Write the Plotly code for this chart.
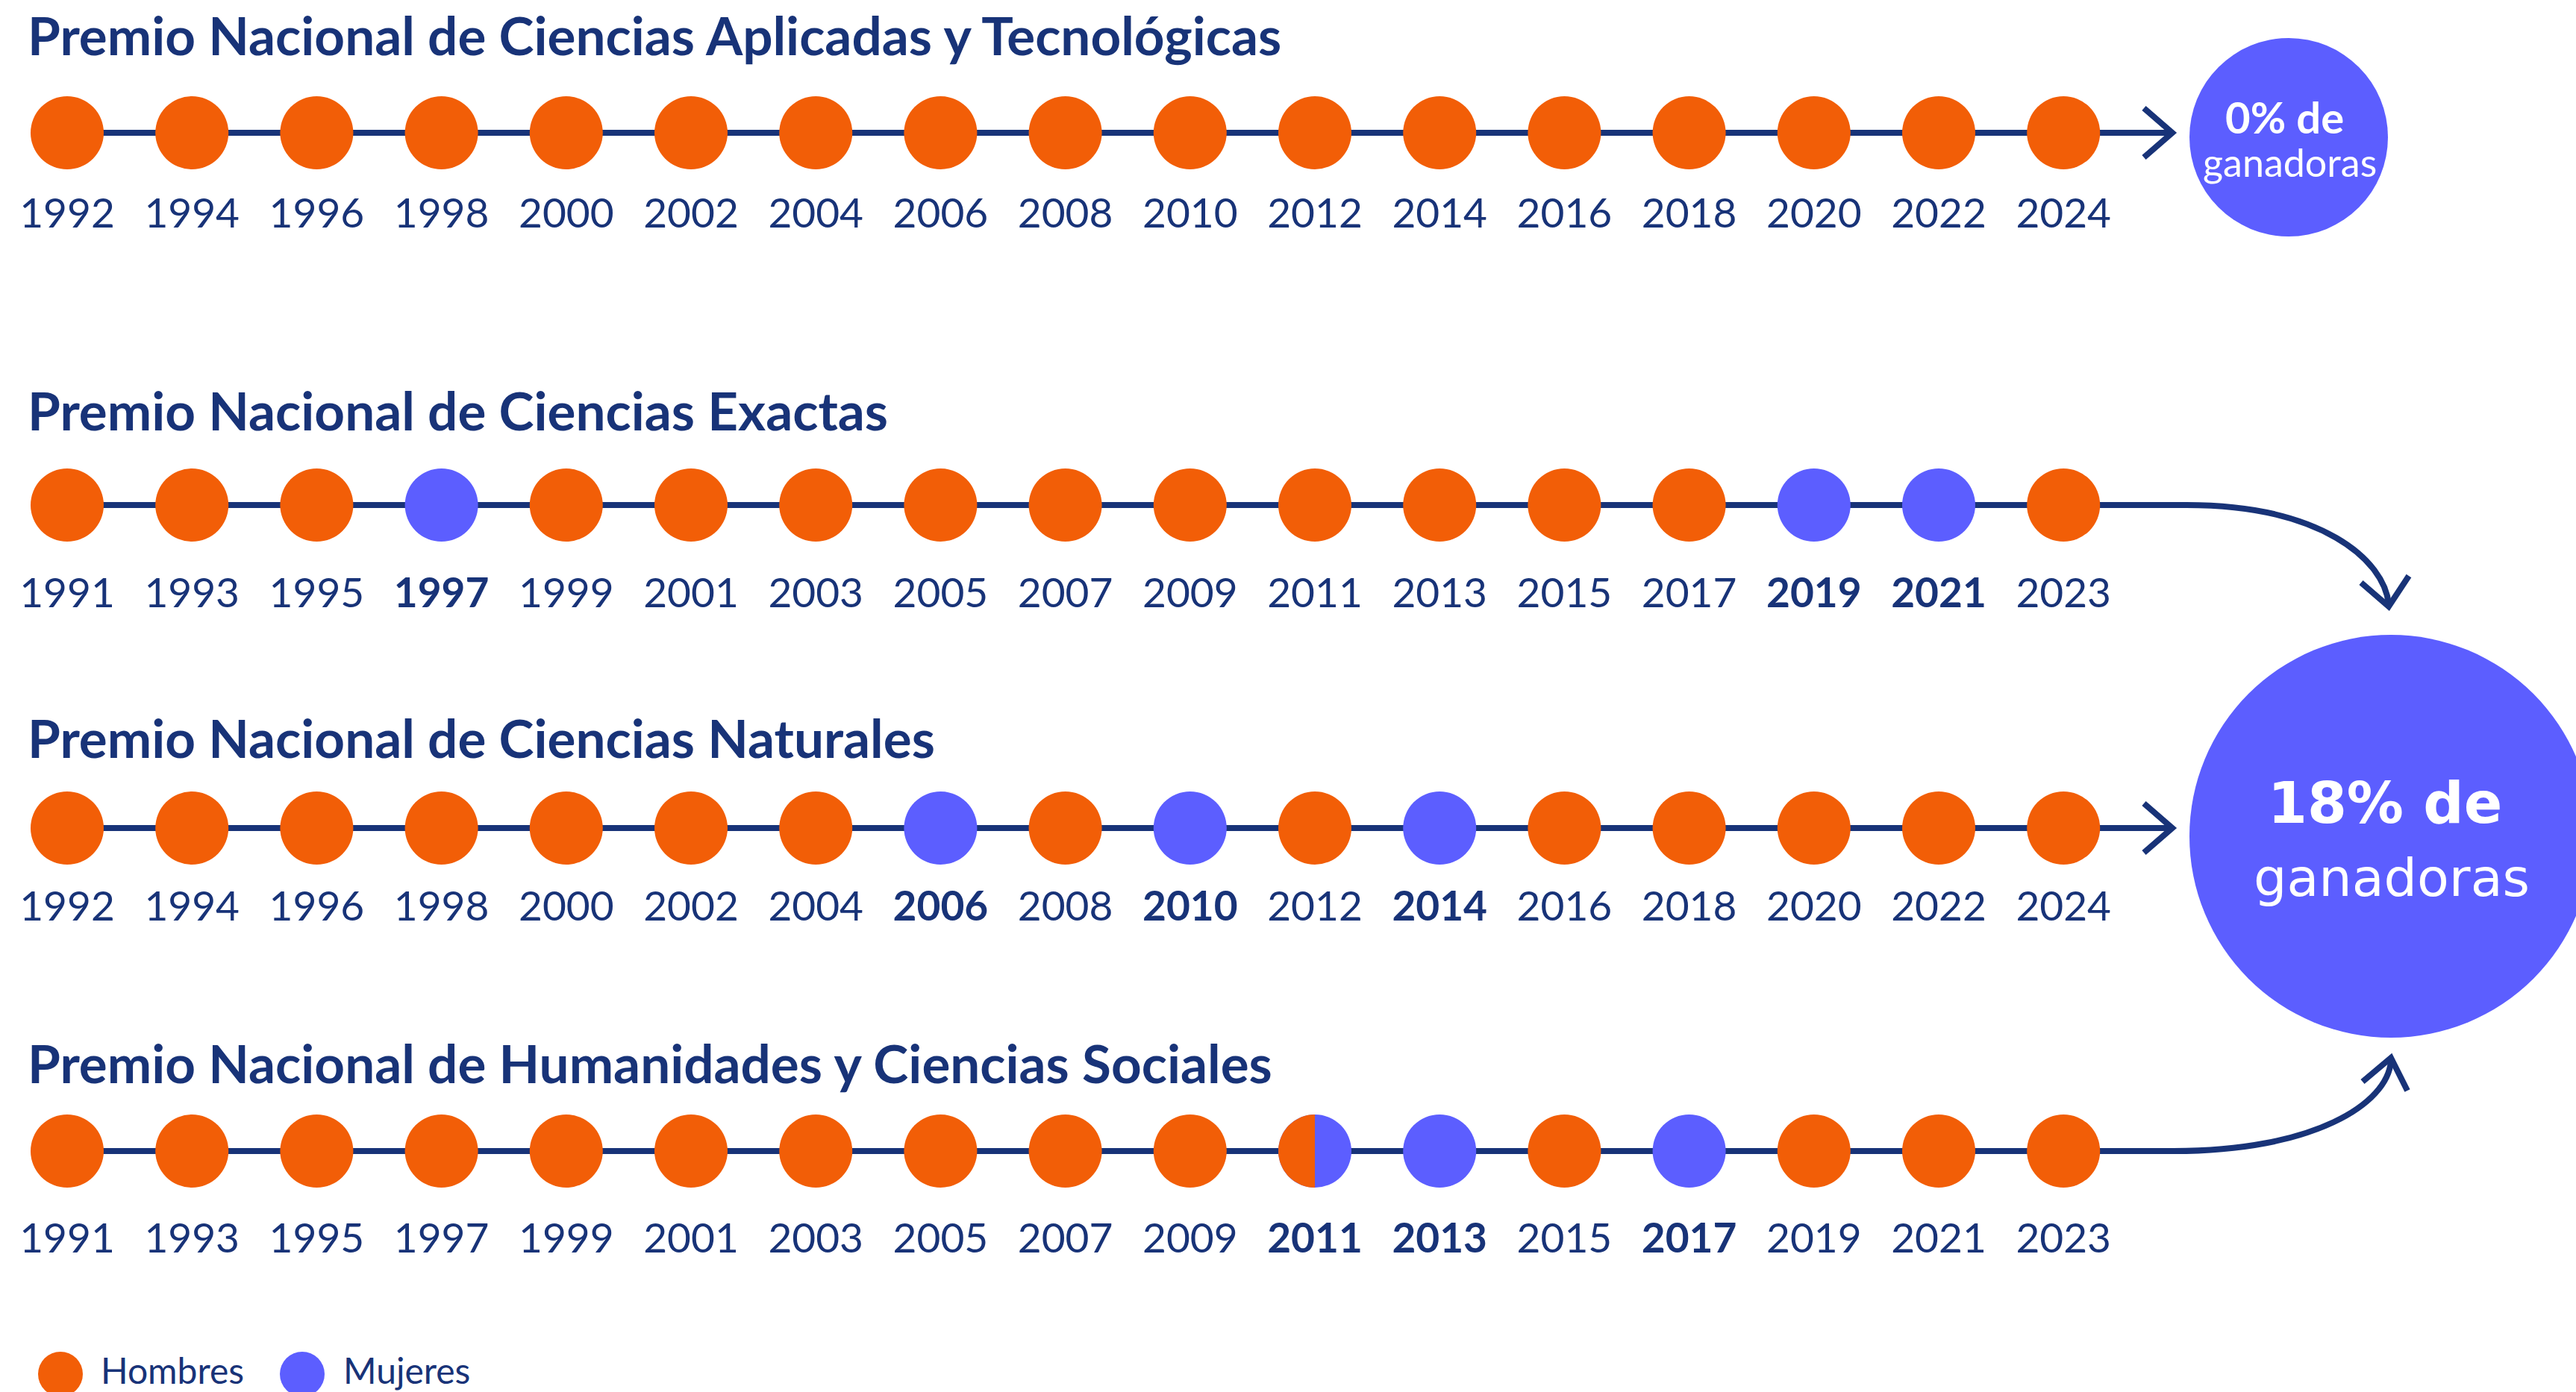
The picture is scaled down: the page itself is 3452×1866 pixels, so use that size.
import numpy as np
import plotly.graph_objects as go

# ---------------- data ----------------
titles = [
    "Premio Nacional de Ciencias Aplicadas y Tecnológicas",
    "Premio Nacional de Ciencias Exactas",
    "Premio Nacional de Ciencias Naturales",
    "Premio Nacional de Humanidades y Ciencias Sociales",
]
years_aplicadas = [1992, 1994, 1996, 1998, 2000, 2002, 2004, 2006, 2008, 2010, 2012, 2014, 2016, 2018, 2020, 2022, 2024]
gender_aplicadas = ["H"] * 17
years_exactas = [1991, 1993, 1995, 1997, 1999, 2001, 2003, 2005, 2007, 2009, 2011, 2013, 2015, 2017, 2019, 2021, 2023]
gender_exactas = ["H", "H", "H", "M", "H", "H", "H", "H", "H", "H", "H", "H", "H", "H", "M", "M", "H"]
years_naturales = [1992, 1994, 1996, 1998, 2000, 2002, 2004, 2006, 2008, 2010, 2012, 2014, 2016, 2018, 2020, 2022, 2024]
gender_naturales = ["H", "H", "H", "H", "H", "H", "H", "M", "H", "M", "H", "M", "H", "H", "H", "H", "H"]
years_humanidades = [1991, 1993, 1995, 1997, 1999, 2001, 2003, 2005, 2007, 2009, 2011, 2013, 2015, 2017, 2019, 2021, 2023]
gender_humanidades = ["H", "H", "H", "H", "H", "H", "H", "H", "H", "H", "HM", "M", "H", "M", "H", "H", "H"]
summary_texts = ["0% de", "18% de"]
legend_labels = ["Hombres", "Mujeres"]

rows = [
    (years_aplicadas, gender_aplicadas),
    (years_exactas, gender_exactas),
    (years_naturales, gender_naturales),
    (years_humanidades, gender_humanidades),
]

# ---------------- layout / style ----------------
W, H = 3452, 1866
X0, DX = 90.0, 167.2          # pixel position of slot 0 and slot spacing
ROW_Y = [178, 677, 1110, 1543]
LABEL_DY = [113, 123, 110, 122]
TITLE_Y = [46, 549, 988, 1424]
ORANGE = "#F25E07"
PURPLE = "#5C5EFF"
NAVY = "#183378"
FONT = "Lato"
R = 49
LW = 8

fig = go.Figure()

color_of = {"H": ORANGE, "M": PURPLE, "HM": PURPLE}

for r, (years, genders) in enumerate(rows):
    idx = list(range(len(years)))
    yv = [ROW_Y[r]] * len(years)
    fig.add_trace(go.Scatter(
        x=idx, y=yv, mode="markers",
        marker=dict(size=2 * R, color=[color_of[g] for g in genders], line=dict(width=0)),
        hoverinfo="skip", showlegend=False))
    labels = [f"<b>{y}</b>" if g != "H" else str(y) for y, g in zip(years, genders)]
    fig.add_trace(go.Scatter(
        x=idx, y=[ROW_Y[r] + LABEL_DY[r]] * len(years), mode="text",
        text=labels, textposition="middle center",
        textfont=dict(family=FONT, size=55, color=NAVY),
        hoverinfo="skip", showlegend=False))
    # half circles (shared prize)
    for i, g in enumerate(genders):
        if g == "HM":
            t = np.linspace(np.pi / 2, 3 * np.pi / 2, 60)
            hx = i + (R / DX) * np.cos(t)
            hy = ROW_Y[r] - R * np.sin(t)
            fig.add_trace(go.Scatter(
                x=hx, y=hy, mode="lines", fill="toself", fillcolor=ORANGE,
                line=dict(width=0, color=ORANGE), hoverinfo="skip", showlegend=False))

# legend markers (on pixel axis)
fig.add_trace(go.Scatter(
    x=[81, 405], y=[1842, 1842], xaxis="x2", mode="markers",
    marker=dict(size=60, color=[ORANGE, PURPLE]), hoverinfo="skip", showlegend=False))

shapes = []
def P(x, y):
    return f"{x},{y}"

# connectors
for r in (0, 2):
    y = ROW_Y[r]
    shapes.append(dict(type="path", xref="x2", yref="y", layer="below",
                       path=f"M {P(X0, y)} L {P(2908, y)}",
                       line=dict(color=NAVY, width=LW)))
    shapes.append(dict(type="path", xref="x2", yref="y", layer="below",
                       path=f"M {P(2873, y - 33)} L {P(2911, y)} L {P(2873, y + 33)}",
                       line=dict(color=NAVY, width=LW)))
y = ROW_Y[1]
shapes.append(dict(type="path", xref="x2", yref="y", layer="below",
                   path=f"M {P(X0, y)} L {P(2930, y)} C {P(3110, y)} {P(3195, 750)} {P(3201, 810)}",
                   line=dict(color=NAVY, width=LW)))
shapes.append(dict(type="path", xref="x2", yref="y", layer="below",
                   path=f"M {P(3164, 781)} L {P(3201, 813)} L {P(3228, 772)}",
                   line=dict(color=NAVY, width=LW)))
y = ROW_Y[3]
shapes.append(dict(type="path", xref="x2", yref="y", layer="below",
                   path=f"M {P(X0, y)} L {P(2913, y)} C {P(3100, y)} {P(3200, 1480)} {P(3204, 1422)}",
                   line=dict(color=NAVY, width=LW)))
shapes.append(dict(type="path", xref="x2", yref="y", layer="below",
                   path=f"M {P(3166, 1450)} L {P(3204, 1418)} L {P(3226, 1462)}",
                   line=dict(color=NAVY, width=LW)))

# summary circles
shapes.append(dict(type="circle", xref="x2", yref="y", x0=3067 - 133, x1=3067 + 133,
                   y0=184 - 133, y1=184 + 133, fillcolor=PURPLE, line=dict(width=0)))
shapes.append(dict(type="circle", xref="x2", yref="y", x0=3204 - 270, x1=3204 + 270,
                   y0=1121 - 270, y1=1121 + 270, fillcolor=PURPLE, line=dict(width=0)))

annotations = []
for r, t in enumerate(titles):
    annotations.append(dict(x=35, y=TITLE_Y[r], xref="x2", yref="y", text=f"<b>{t}</b>",
                            showarrow=False, xanchor="left", yanchor="middle",
                            font=dict(family=FONT, size=71, color=NAVY)))
annotations += [
    dict(x=3061, y=156, xref="x2", yref="y", text=f"<b>{summary_texts[0]}</b>", showarrow=False,
         xanchor="center", yanchor="middle", font=dict(family=FONT, size=58, color="white")),
    dict(x=3068, y=217, xref="x2", yref="y", text="ganadoras", showarrow=False,
         xanchor="center", yanchor="middle", font=dict(family=FONT, size=52, color="white")),
    dict(x=3196, y=1076, xref="x2", yref="y", text=f"<b>{summary_texts[1]}</b>", showarrow=False,
         xanchor="center", yanchor="middle", font=dict(family="DejaVu Sans", size=76, color="white")),
    dict(x=3205, y=1177, xref="x2", yref="y", text="ganadoras", showarrow=False,
         xanchor="center", yanchor="middle", font=dict(family="DejaVu Sans", size=70, color="white")),
    dict(x=133, y=1836, xref="x2", yref="y", text=legend_labels[0], showarrow=False,
         xanchor="left", yanchor="middle", font=dict(family=FONT, size=48, color=NAVY)),
    dict(x=458, y=1836, xref="x2", yref="y", text=legend_labels[1], showarrow=False,
         xanchor="left", yanchor="middle", font=dict(family=FONT, size=48, color=NAVY)),
]

fig.update_layout(
    width=W, height=H, margin=dict(l=0, r=0, t=0, b=0),
    paper_bgcolor="white", plot_bgcolor="white",
    xaxis=dict(range=[-X0 / DX, (W - X0) / DX], visible=False, fixedrange=True),
    xaxis2=dict(range=[0, W], visible=False, overlaying="x", fixedrange=True),
    yaxis=dict(range=[H, 0], visible=False, fixedrange=True),
    shapes=shapes, annotations=annotations, showlegend=False,
)

fig.write_html("out.html", config={"displayModeBar": False},
               post_script="document.body.style.margin='0';document.body.style.padding='0';document.body.style.overflow='hidden';")
